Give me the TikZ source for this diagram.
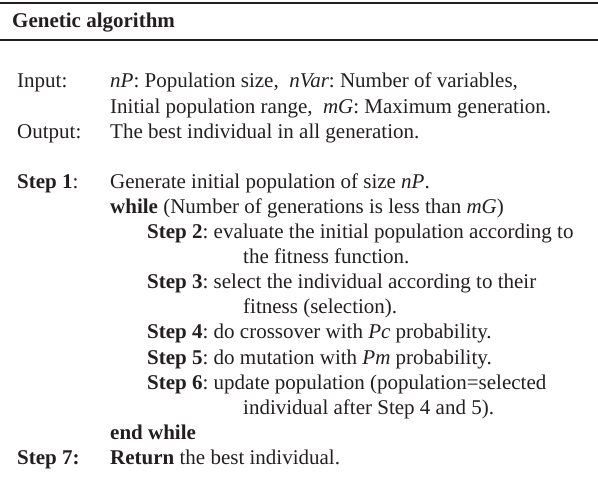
\documentclass[tikz,border=0pt]{standalone}
\usepackage{fontspec}
\setmainfont{Liberation Serif}
\definecolor{ink}{HTML}{231F20}
\begin{document}
\frenchspacing
\begin{tikzpicture}[x=1pt,y=-1pt,
  txt/.style={anchor=base west, inner sep=0pt, text=ink,
    font=\fontsize{21}{25}\selectfont\frenchspacing},
  rule/.style={line width=2pt, draw=ink}]
\useasboundingbox (0,0) rectangle (598,489);

% horizontal rules of the algorithm box
\coordinate (r1a) at (0,3.5);   \coordinate (r1b) at (598,3.5);
\coordinate (r2a) at (0,40.5);  \coordinate (r2b) at (598,40.5);
\draw[rule] (r1a) -- (r1b);
\draw[rule] (r2a) -- (r2b);

% title
\node[txt] (title) at (12,27.5) {\textbf{Genetic algorithm}};

% column positions
\def\lab{17}
\def\body{110}
\def\inner{147}
\def\cont{243}
\def\pitch{25.1}
\def\base{88}

\node[txt] (inL)  at (\lab,\base)           {Input:};
\node[txt] (in1)  at (\body,\base)          {\textit{nP}: Population size, \ \textit{nVar}: Number of variables,};
\node[txt] (in2)  at (\body,\base+\pitch)   {Initial population range, \ \textit{mG}: Maximum generation.};
\node[txt] (outL) at (\lab,\base+2*\pitch)  {Output:};
\node[txt] (out1) at (\body,\base+2*\pitch) {The best individual in all generation.};

\node[txt] (s1L) at (\lab,\base+4*\pitch)   {\textbf{Step 1}:};
\node[txt] (s1)  at (\body,\base+4*\pitch)  {Generate initial population of size \textit{nP}.};
\node[txt] (wh)  at (\body,\base+5*\pitch)  {\textbf{while} (Number of generations is less than \textit{mG})};
\node[txt] (s2)  at (\inner,\base+6*\pitch) {\textbf{Step 2}: evaluate the initial population according to};
\node[txt] (s2b) at (\cont,\base+7*\pitch)  {the fitness function.};
\node[txt] (s3)  at (\inner,\base+8*\pitch) {\textbf{Step 3}: select the individual according to their};
\node[txt] (s3b) at (\cont,\base+9*\pitch)  {fitness (selection).};
\node[txt] (s4)  at (\inner,\base+10*\pitch) {\textbf{Step 4}: do crossover with \textit{Pc} probability.};
\node[txt] (s5)  at (\inner,\base+11*\pitch) {\textbf{Step 5}: do mutation with \textit{Pm} probability.};
\node[txt] (s6)  at (\inner,\base+12*\pitch) {\textbf{Step 6}: update population (population=selected};
\node[txt] (s6b) at (\cont,\base+13*\pitch)  {individual after Step 4 and 5).};
\node[txt] (ew)  at (\body,\base+14*\pitch)  {\textbf{end while}};
\node[txt] (s7L) at (\lab,\base+15*\pitch)   {\textbf{Step 7:}};
\node[txt] (s7)  at (\body,\base+15*\pitch)  {\textbf{Return} the best individual.};
\end{tikzpicture}
\end{document}
